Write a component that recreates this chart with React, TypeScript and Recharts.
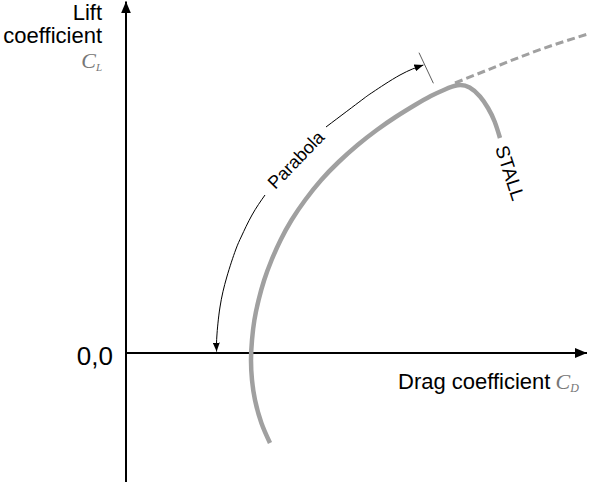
import React from "react";
import { LineChart, Line, XAxis, YAxis, ReferenceLine } from "recharts";

// drag polar, from the lower end up to the stall end
const polarCD = [
  0.072, 0.0677, 0.0645, 0.063, 0.0625, 0.063, 0.0642, 0.0663, 0.0691, 0.0728, 0.0773, 0.0828, 0.0896, 0.0976,
  0.1063, 0.1158, 0.1254, 0.1348, 0.1445, 0.1524, 0.1592, 0.1658, 0.1718, 0.177, 0.181, 0.1843, 0.187,
];
const polarCL = [
  -0.45, -0.35, -0.235, -0.135, -0.035, 0.065, 0.165, 0.265, 0.365, 0.465, 0.565, 0.665, 0.765, 0.865,
  0.955, 1.04, 1.115, 1.18, 1.24, 1.285, 1.3165, 1.3385, 1.3275, 1.2825, 1.225, 1.1575, 1.075,
];

// ideal parabola carried on past the stall (dashed)
const idealCD = [0.1645, 0.187, 0.2087, 0.232];
const idealCL = [1.35, 1.44, 1.523, 1.598];

// "Parabola" bracket, lower part runs from the text gap down to the arrow tip
const arcLowCD = [0.0695, 0.063, 0.0578, 0.0548, 0.0504, 0.047, 0.0454, 0.0453];
const arcLowCL = [0.79, 0.69, 0.585, 0.515, 0.38, 0.23, 0.08, 0.007];
// upper part runs from the text gap up to the arrow tip
const arcHighCD = [0.1, 0.1179, 0.1235, 0.137, 0.1487];
const arcHighCL = [1.13, 1.265, 1.305, 1.39, 1.44];

const xDomain = [-0.063, 0.232];
const yDomain = [-0.645, 1.765];

const zip = (cd: number[], cl: number[]) => cd.map((v, i) => ({ cd: v, cl: cl[i] }));

const polar = zip(polarCD, polarCL);
const ideal = zip(idealCD, idealCL);
const arcLow = zip(arcLowCD, arcLowCL);
const arcHigh = zip(arcHighCD, arcHighCL);

const sans = "'Liberation Sans', Arial, sans-serif";
const serif = "'Liberation Serif', 'Times New Roman', serif";
const gray = "#a0a0a0";

export default function App() {
  return (
    <div style={{ position: "absolute", left: 0, top: 0, background: "#fff" }}>
      <LineChart width={590} height={482} margin={{ top: 0, right: 0, bottom: 0, left: 0 }}>
        <defs>
          <marker id="axisHead" viewBox="0 0 12 10" refX="12" refY="5" markerWidth="12" markerHeight="10" orient="auto" markerUnits="userSpaceOnUse">
            <path d="M0,0 L12,5 L0,10 z" fill="#000" />
          </marker>
          <marker id="arcHead" viewBox="0 0 9 7" refX="9" refY="3.5" markerWidth="9" markerHeight="7" orient="auto" markerUnits="userSpaceOnUse">
            <path d="M0,0 L9,3.5 L0,7 z" fill="#000" />
          </marker>
        </defs>
        <XAxis type="number" dataKey="cd" domain={xDomain} allowDataOverflow scale="linear" hide />
        <YAxis type="number" dataKey="cl" domain={yDomain} allowDataOverflow scale="linear" hide />

        <ReferenceLine
          segment={[{ x: 0, y: yDomain[0] }, { x: 0, y: 1.758 }]}
          stroke="#000"
          strokeWidth={2}
          markerEnd="url(#axisHead)"
        />
        <ReferenceLine
          segment={[{ x: 0, y: 0 }, { x: 0.2305, y: 0 }]}
          stroke="#000"
          strokeWidth={2}
          markerEnd="url(#axisHead)"
        />
        <ReferenceLine
          segment={[{ x: 0.1465, y: 1.5015 }, { x: 0.1537, y: 1.3485 }]}
          stroke="#333"
          strokeWidth={0.8}
        />

        <Line data={ideal} dataKey="cl" type="natural" stroke={gray} strokeWidth={3} strokeDasharray="8 4" dot={false} activeDot={false} isAnimationActive={false} />
        <Line data={polar} dataKey="cl" type="natural" stroke={gray} strokeWidth={4.5} dot={false} activeDot={false} isAnimationActive={false} />
        <Line data={arcLow} dataKey="cl" type="natural" stroke="#000" strokeWidth={1} dot={false} activeDot={false} markerEnd="url(#arcHead)" isAnimationActive={false} />
        <Line data={arcHigh} dataKey="cl" type="natural" stroke="#000" strokeWidth={1} dot={false} activeDot={false} markerEnd="url(#arcHead)" isAnimationActive={false} />

        <text x={102} y={20} textAnchor="end" fontFamily={sans} fontSize={22} fill="#000">Lift</text>
        <text x={102} y={43} textAnchor="end" fontFamily={sans} fontSize={22} fill="#000">coefficient</text>
        <text x={102} y={68} textAnchor="end" fontFamily={serif} fontStyle="italic" fill="#777">
          <tspan fontSize={22}>C</tspan>
          <tspan fontSize={11} dy={3}>L</tspan>
        </text>
        <text x={113} y={365} textAnchor="end" fontFamily={sans} fontSize={26} fill="#000">0,0</text>
        <text x={398} y={389} fontFamily={sans} fontSize={22} fill="#000">
          Drag coefficient
          <tspan fontFamily={serif} fontStyle="italic" fill="#777" fontSize={22} dx={5}>C</tspan>
          <tspan fontFamily={serif} fontStyle="italic" fill="#777" fontSize={12} dy={3}>D</tspan>
        </text>
        <text x={495} y={148} transform="rotate(72 495 148)" fontFamily={sans} fontSize={19} fill="#000">STALL</text>
        <text x={296} y={160} transform="rotate(-46 296 160)" textAnchor="middle" dominantBaseline="central" fontFamily={sans} fontSize={18} fill="#000">Parabola</text>
      </LineChart>
    </div>
  );
}
